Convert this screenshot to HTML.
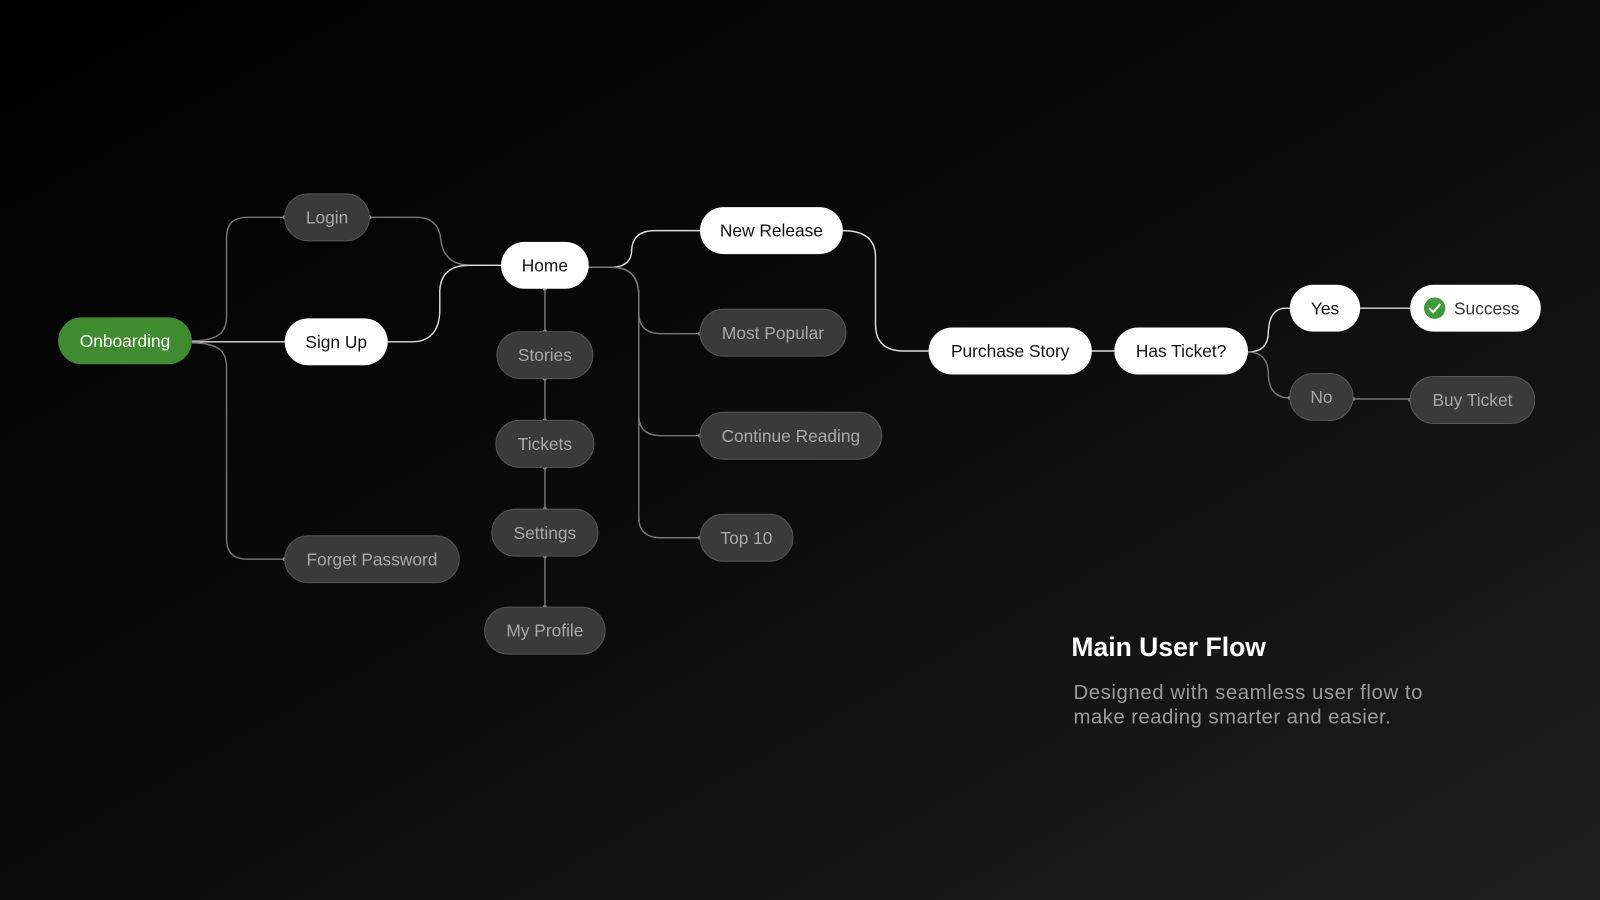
<!DOCTYPE html>
<html><head><meta charset="utf-8"><style>
html,body{margin:0;padding:0;width:1600px;height:900px;overflow:hidden;background:#000}
svg{display:block}
text{font-family:"Liberation Sans",sans-serif}
</style></head><body>
<svg width="1600" height="900" viewBox="0 0 1568 882" xmlns="http://www.w3.org/2000/svg">
<defs>
<linearGradient id="bg" x1="0" y1="0" x2="1" y2="1">
<stop offset="0" stop-color="#000"/><stop offset="0.5" stop-color="#0b0b0b"/><stop offset="1" stop-color="#1f1f1f"/>
</linearGradient>
</defs>
<rect width="1568" height="882" fill="url(#bg)"/>
<g fill="none" stroke-width="1.4">
<path d="M188,335 H279" stroke="#ddd"/>
<path d="M188,334 C215,334 222,325 222,310 V233 Q222,213 242,213 H279" stroke="#777"/>
<path d="M188,336 C215,336 222,345 222,360 V528 Q222,548 242,548 H279" stroke="#777"/>
<path d="M362,213 H408 Q430,213 432,235 Q435,260 462,260 H491" stroke="#777"/>
<path d="M380,335 H403 Q430,335 431,305 V285 Q432,260 460,260 H491" stroke="#ddd"/>
<path d="M577,262 H598 Q619,262 619,245 Q620,226 642,226 H686" stroke="#ddd"/>
<path d="M577,262 H600 Q626,262 626,290 V306 Q626,327 648,327 H686" stroke="#777"/>
<path d="M600,262 Q626,262 626,290 V407 Q626,427 648,427 H686" stroke="#777"/>
<path d="M600,262 Q626,262 626,290 V507 Q626,527 648,527 H686" stroke="#777"/>
<path d="M534,283 V595" stroke="#777"/>
<path d="M826,226 Q858,226 858,252 V318 Q858,344 886,344 H910" stroke="#ddd"/>
<path d="M1070,344 H1092" stroke="#ddd"/>
<path d="M1223,345 Q1243,345 1243,325 Q1244,302 1260,302 H1264" stroke="#ddd"/>
<path d="M1223,345 Q1243,345 1243,368 Q1244,390 1264,390" stroke="#777"/>
<path d="M1333,302 H1382" stroke="#ddd"/>
<path d="M1326,391 H1382" stroke="#777"/>
</g>
<g fill="#888">
<circle cx="279" cy="213" r="2"/><circle cx="362" cy="213" r="2"/><circle cx="279" cy="548" r="2"/>
<circle cx="534" cy="283" r="2"/><circle cx="534" cy="325" r="2"/><circle cx="534" cy="371" r="2"/><circle cx="534" cy="412" r="2"/>
<circle cx="534" cy="458" r="2"/><circle cx="534" cy="499" r="2"/><circle cx="534" cy="545" r="2"/><circle cx="534" cy="595" r="2"/>
<circle cx="686" cy="327" r="2"/><circle cx="686" cy="427" r="2"/><circle cx="686" cy="527" r="2"/>
<circle cx="1264" cy="390" r="2"/><circle cx="1326" cy="391" r="2"/><circle cx="1382" cy="392" r="2"/>
</g>
<g font-size="17" text-anchor="middle">
<rect x="57" y="311" width="131" height="46" rx="23" fill="#3f8b2f"/><text x="122.5" y="340" fill="#fff">Onboarding</text>
<g fill="#3a3a3a" stroke="#555" stroke-width="1">
<rect x="279" y="190" width="83" height="46" rx="23"/>
<rect x="279" y="525" width="171" height="46" rx="23"/>
<rect x="487" y="325" width="94" height="46" rx="23"/>
<rect x="486" y="412" width="96" height="46" rx="23"/>
<rect x="482" y="499" width="104" height="46" rx="23"/>
<rect x="475" y="595" width="118" height="46" rx="23"/>
<rect x="686" y="303" width="143" height="46" rx="23"/>
<rect x="686" y="404" width="178" height="46" rx="23"/>
<rect x="686" y="504" width="91" height="46" rx="23"/>
<rect x="1264" y="366" width="62" height="46" rx="23"/>
<rect x="1382" y="369" width="122" height="46" rx="23"/>
</g>
<g fill="#a8a8a8">
<text x="320.5" y="219">Login</text>
<text x="364.5" y="554">Forget Password</text>
<text x="534" y="354">Stories</text>
<text x="534" y="441">Tickets</text>
<text x="534" y="528">Settings</text>
<text x="534" y="624">My Profile</text>
<text x="757.5" y="332">Most Popular</text>
<text x="775" y="433">Continue Reading</text>
<text x="731.5" y="533">Top 10</text>
<text x="1295" y="395">No</text>
<text x="1443" y="398">Buy Ticket</text>
</g>
<g fill="#fff">
<rect x="279" y="312" width="101" height="46" rx="23"/>
<rect x="491" y="237" width="86" height="46" rx="23"/>
<rect x="686" y="203" width="140" height="46" rx="23"/>
<rect x="910" y="321" width="160" height="46" rx="23"/>
<rect x="1092" y="321" width="131" height="46" rx="23"/>
<rect x="1264" y="279" width="69" height="46" rx="23"/>
<rect x="1382" y="279" width="128" height="46" rx="23"/>
</g>
<g fill="#111">
<text x="329.5" y="341">Sign Up</text>
<text x="534" y="266">Home</text>
<text x="756" y="232">New Release</text>
<text x="990" y="350">Purchase Story</text>
<text x="1157.5" y="350">Has Ticket?</text>
<text x="1298.5" y="308">Yes</text>
<text x="1457" y="308" fill="#333">Success</text>
</g>
</g>
<circle cx="1406" cy="302" r="10.5" fill="#3f9a3a"/>
<path d="M1401,302.5 L1404.5,306 L1411,298.5" fill="none" stroke="#fff" stroke-width="2" stroke-linecap="round" stroke-linejoin="round"/>
<text x="1050" y="643" font-size="26" fill="#fff" font-weight="bold">Main User Flow</text>
<text x="1052" y="685" font-size="20" fill="#9a9a9a" textLength="342" lengthAdjust="spacing">Designed with seamless user flow to</text>
<text x="1052" y="709" font-size="20" fill="#9a9a9a" textLength="311" lengthAdjust="spacing">make reading smarter and easier.</text>
</svg>
</body></html>
